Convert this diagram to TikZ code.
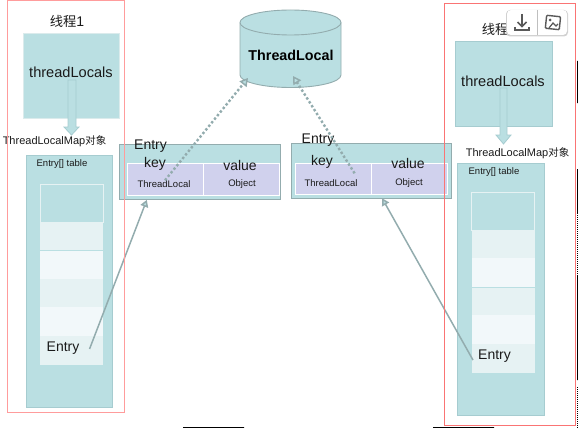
\documentclass[tikz,border=0pt]{standalone}
\usepackage{fontspec}
\setmainfont{Liberation Sans}
\newfontfamily\cjkfont{Noto Sans CJK SC}[Scale=0.95]
\usetikzlibrary{arrows.meta}
\definecolor{tealfill}{HTML}{BADFE2}
\definecolor{tealedge}{HTML}{A6CCD0}
\definecolor{rowa}{HTML}{E6F2F3}
\definecolor{rowb}{HTML}{F2F8FA}
\definecolor{purp}{HTML}{D0D1ED}
\definecolor{conn}{HTML}{93ACAE}
\definecolor{redA}{HTML}{FF9C9C}
\definecolor{redB}{HTML}{FA7474}
\definecolor{txt}{HTML}{1A1A1A}
\tikzset{
  tealbox/.style={draw=tealedge,line width=0.8pt,fill=tealfill,inner sep=0pt},
  rowbox/.style={fill=#1,draw=none,inner sep=0pt,minimum width=63pt},
  cellbox/.style={fill=purp,draw=white,line width=1pt,inner sep=0pt},
  lbl/.style={inner sep=0pt,text=txt,font=\fontsize{14}{16}\selectfont},
  lblsmall/.style={inner sep=0pt,text=txt,font=\fontsize{9.5}{11}\selectfont},
  lblmap/.style={inner sep=0pt,text=txt,font=\fontsize{11}{13}\selectfont},
  lblbig/.style={inner sep=0pt,text=txt,font=\fontsize{14.6}{18}\selectfont},
  solidconn/.style={draw=conn,line width=1.5pt,-{Triangle[open,length=7pt,width=8pt,fill=tealfill]}},
  dotconn/.style={draw=conn,line width=2.4pt,line cap=butt,dash pattern=on 2.4pt off 2.2pt,-{Triangle[open,length=8pt,width=9pt,line width=1.5pt,fill=tealfill]}},
  blockarrow/.style={draw=tealedge,line width=0.8pt,fill=tealfill},
}
\begin{document}
\begin{tikzpicture}[x=1pt,y=-1pt]
\useasboundingbox (0,0) rectangle (578,428);
% stray black marks
\fill[black] (183,427) rectangle (244,428) (433,427) rectangle (494,428);
\fill[black] (577,61) rectangle (578,103) (577,169) rectangle (578,213) (577,275) rectangle (578,380);
\draw[black,line width=1pt,dash pattern=on 1pt off 1pt] (577.5,213) -- (577.5,275) (577.5,387) -- (577.5,428);
% thread 1
\node[lbl] (t1) at (67,21) {{\cjkfont 线程}1};
\node[tealbox,draw=white!60!tealedge,minimum width=96pt,minimum height=85pt] (locals1) at (71.75,75.5) {};
\node[lblbig] (loctxt1) at (71,72.5) {threadLocals};
\node[tealbox,minimum width=86pt,minimum height=252pt] (table1) at (69,281) {};
\node[lblsmall] (ttxt1) at (62,164) {Entry[] table};
\node[lblmap] (map1) at (54.5,141) {ThreadLocalMap{\cjkfont 对象}};
\node[rowbox=tealfill,draw=rowa,line width=0.8pt,minimum height=38pt] (r10) at (71.5,203) {};
\node[rowbox=rowa,minimum height=27.5pt] (r11) at (71.5,236.5) {};
\node[rowbox=rowb,minimum height=29pt] (r12) at (71.5,265) {};
\node[rowbox=rowa,minimum height=27.5pt] (r13) at (71.5,293) {};
\node[rowbox=rowb,minimum height=29pt] (r14) at (71.5,321.5) {};
\node[rowbox=rowa,minimum height=29pt] (r15) at (71.5,350.5) {};
\node[lbl] (e1) at (63,348) {Entry};
\filldraw[blockarrow] (68,80) -- (76,80) -- (76,127) -- (79,127) -- (71.5,135) -- (64,127) -- (68,127) -- cycle;
% thread 2
\node[lbl] (t2) at (499,29) {{\cjkfont 线程}2};
\node[tealbox,minimum width=97pt,minimum height=85.5pt] (locals2) at (503.5,83.7) {};
\node[lblbig] (loctxt2) at (503,81) {threadLocals};
\node[tealbox,minimum width=86.5pt,minimum height=252pt] (table2) at (500.7,289) {};
\node[lblsmall] (ttxt2) at (494,172) {Entry[] table};
\node[lblmap] (map2) at (517.5,153) {ThreadLocalMap{\cjkfont 对象}};
\node[rowbox=tealfill,draw=rowa,line width=0.8pt,minimum height=38pt] (r20) at (503,211) {};
\node[rowbox=rowa,minimum height=27.5pt] (r21) at (503,244.5) {};
\node[rowbox=rowb,minimum height=29pt] (r22) at (503,272.5) {};
\node[rowbox=rowa,minimum height=27.5pt] (r23) at (503,301.5) {};
\node[rowbox=rowb,minimum height=29pt] (r24) at (503,329.5) {};
\node[rowbox=rowa,minimum height=29pt] (r25) at (503,358.5) {};
\node[lbl] (e2) at (494.5,356) {Entry};
\filldraw[blockarrow] (500,88) -- (507,88) -- (507,135) -- (511,135) -- (503.5,144) -- (496,135) -- (500,135) -- cycle;
% central cylinder
\filldraw[draw=conn,line width=0.9pt,fill=tealfill] (240,22.5) -- (240,75) arc[start angle=180,end angle=360,x radius=50.5,y radius=-12.5] -- (341,22.5) arc[start angle=0,end angle=180,x radius=50.5,y radius=-12.5] -- cycle;
\draw[draw=conn,line width=0.9pt] (240,22.5) arc[start angle=180,end angle=360,x radius=50.5,y radius=-12.5];
\node[inner sep=0pt,font=\fontsize{14.3}{16}\selectfont\bfseries,text=black] (cyl) at (291,55) {ThreadLocal};
\coordinate (tip1) at (248,78);
\coordinate (tip2) at (293,76);
% entry 1
\node[tealbox,draw=conn,minimum width=160.5pt,minimum height=55.5pt] (entry1) at (199.75,171.75) {};
\node[cellbox,minimum width=76pt,minimum height=32pt,anchor=north west] (k1) at (127,163) {};
\node[cellbox,minimum width=76pt,minimum height=32pt,anchor=north west] (v1) at (203,163) {};
\node[lbl] (et1) at (150.5,146) {Entry};
\node[lbl] (key1) at (155,164) {key};
\node[lbl] (val1) at (240,165) {value};
\node[lblsmall] (kt1) at (164,184) {ThreadLocal};
\node[lblsmall] (vt1) at (242,184) {Object};
% entry 2
\node[tealbox,draw=conn,minimum width=160pt,minimum height=55pt] (entry2) at (371.5,170.5) {};
\node[cellbox,minimum width=76pt,minimum height=31pt,anchor=north west] (k2) at (295,163) {};
\node[cellbox,minimum width=76pt,minimum height=31pt,anchor=north west] (v2) at (371,163) {};
\node[lbl] (et2) at (318,140) {Entry};
\node[lbl] (key2) at (322,162) {key};
\node[lbl] (val2) at (408,163) {value};
\node[lblsmall] (kt2) at (331,183) {ThreadLocal};
\node[lblsmall] (vt2) at (409,183) {Object};
% connectors
\draw[dotconn] (kt1.north) ++(1,0) -- (tip1);
\draw[dotconn] (kt2.north east) ++(-3,-6) -- (tip2);
\draw[solidconn] (e1.east) ++(10,1) -- (entry1.208);
\draw[solidconn] (e2.west) ++(-5,4) -- (entry2.291);
% frames of the threads
\draw[redA,line width=1pt] (7.5,1) rectangle (124,412.5);
\draw[redB,line width=1pt] (444.5,3.5) rectangle (575.5,425.5);
% toolbar overlay
\fill[black!18,rounded corners=4pt] (506,10) rectangle (568,36.5);
\fill[white,rounded corners=4pt] (507,10) rectangle (567,35);
\draw[black!25,line width=0.7pt] (537.5,10) -- (537.5,35);
\draw[black!65,line width=1.5pt] (522,14) -- (522,26);
\draw[black!65,line width=1.5pt] (517.5,22) -- (522,26.5) -- (526.5,22);
\draw[black!65,line width=1.5pt] (515,27) -- (515,30) -- (529,30) -- (529,27);
\draw[black!65,line width=1.4pt,rounded corners=1pt,rotate around={-6:(553,22)}] (546,16) rectangle (560,29);
\draw[black!65,line width=1.2pt] (549,28) -- (553,23) -- (556,26) -- (558,24);
\fill[black!65] (550,20) circle (1.5);
\end{tikzpicture}
\end{document}
